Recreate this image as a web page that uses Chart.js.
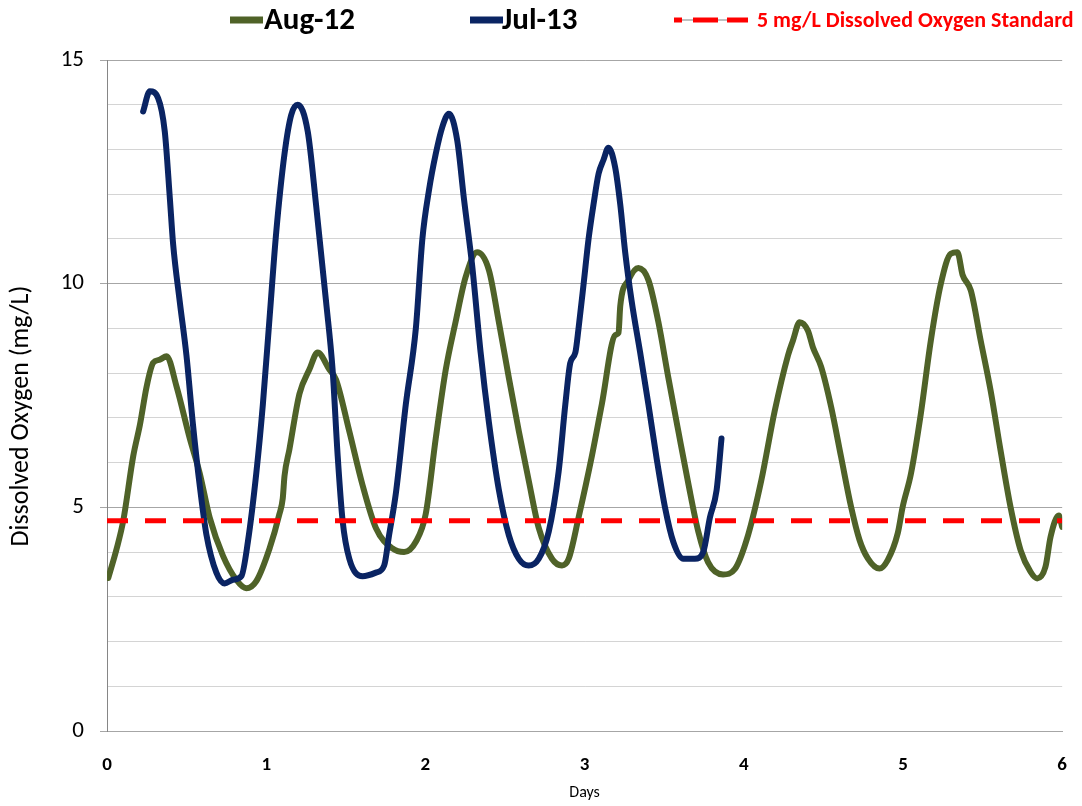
<!DOCTYPE html>
<html>
<head>
<meta charset="utf-8">
<script src="https://cdn.jsdelivr.net/npm/chart.js@4"></script>
<style>
  html, body { margin: 0; padding: 0; background: #fff; }
  #wrap { position: relative; width: 1082px; height: 806px; }
</style>
</head>
<body>
<div id="wrap"><canvas id="doChart" width="1082" height="806"></canvas></div>
<script>
// Aug-12 sonde record (days since deployment, mg/L)
const aug12Days = [0.008, 0.061, 0.102, 0.165, 0.207, 0.249, 0.290, 0.332, 0.374, 0.437, 0.520, 0.582, 0.645, 0.728, 0.812, 0.875, 0.938,
  1.021, 1.083, 1.104, 1.115, 1.146, 1.209, 1.271, 1.323, 1.397, 1.439, 1.522, 1.605, 1.689, 1.793, 1.866, 1.940,
  2.002, 2.065, 2.128, 2.190, 2.253, 2.325, 2.399, 2.461, 2.524, 2.587, 2.649, 2.712, 2.795, 2.858, 2.900, 2.962,
  3.046, 3.108, 3.192, 3.213, 3.224, 3.276, 3.338, 3.401, 3.463, 3.526, 3.589, 3.651, 3.714, 3.776, 3.870, 3.944,
  4.027, 4.110, 4.194, 4.278, 4.309, 4.351, 4.403, 4.434, 4.486, 4.549, 4.611, 4.674, 4.727, 4.779, 4.852, 4.904, 4.967,
  4.998, 5.050, 5.112, 5.175, 5.238, 5.300, 5.342, 5.374, 5.426, 5.488, 5.551, 5.613, 5.676, 5.739, 5.801, 5.843,
  5.895, 5.927, 5.979, 6.0];
const aug12DO = [3.42, 4.08, 4.7, 6.15, 6.85, 7.7, 8.23, 8.3, 8.38, 7.7, 6.54, 5.77, 4.77, 3.92, 3.38, 3.19, 3.35,
  4.08, 4.85, 5.2, 5.7, 6.3, 7.54, 8.08, 8.46, 8.08, 7.85, 6.7, 5.5, 4.54, 4.08, 4.0, 4.23,
  4.85, 6.54, 8.08, 9.15, 10.15, 10.7, 10.3, 9.15, 7.9, 6.7, 5.6, 4.54, 3.85, 3.7, 3.85, 4.77,
  6.15, 7.3, 8.85, 8.9, 9.5, 10.08, 10.35, 10.08, 9.15, 7.9, 6.7, 5.54, 4.46, 3.77, 3.5, 3.62,
  4.38, 5.6, 7.15, 8.4, 8.73, 9.14, 8.95, 8.58, 8.14, 7.24, 6.13, 5.01, 4.27, 3.86, 3.63, 3.82, 4.42,
  5.01, 5.75, 7.09, 8.73, 10.0, 10.67, 10.7, 10.2, 9.85, 8.73, 7.6, 6.27, 5.0, 4.04, 3.56, 3.41,
  3.67, 4.34, 4.82, 4.56];

// Jul-13 sonde record
const jul13Days = [0.227, 0.269, 0.321, 0.363, 0.395, 0.415, 0.457, 0.499, 0.540, 0.582, 0.624, 0.687, 0.739, 0.791, 0.844, 0.885, 0.938, 0.979,
  1.021, 1.063, 1.115, 1.157, 1.198, 1.261, 1.313, 1.376, 1.417, 1.449, 1.480, 1.522, 1.605, 1.689, 1.741, 1.772, 1.814, 1.877, 1.940, 1.981,
  2.023, 2.065, 2.106, 2.148, 2.200, 2.242, 2.294, 2.347, 2.399, 2.461, 2.524, 2.587, 2.649, 2.712, 2.775, 2.837, 2.879, 2.910, 2.942, 2.962, 2.994,
  3.025, 3.056, 3.088, 3.119, 3.150, 3.192, 3.224, 3.255, 3.296, 3.349, 3.401, 3.453, 3.505, 3.557, 3.620, 3.693, 3.745, 3.787, 3.829, 3.860];
const jul13DO = [13.85, 14.3, 14.15, 13.4, 11.9, 10.9, 9.6, 8.4, 6.85, 5.5, 4.4, 3.54, 3.3, 3.38, 3.46, 4.23, 5.77, 7.3,
  9.23, 11.15, 12.9, 13.77, 14.0, 13.4, 11.77, 9.6, 8.08, 6.15, 4.7, 3.85, 3.46, 3.54, 3.7, 4.38, 5.3, 7.3, 9.0, 11.0,
  12.1, 12.9, 13.5, 13.8, 13.2, 11.9, 10.4, 8.46, 6.9, 5.4, 4.38, 3.85, 3.7, 3.85, 4.46, 5.8, 7.3, 8.23, 8.46, 9.0, 10.0,
  11.0, 11.77, 12.46, 12.77, 13.04, 12.6, 11.77, 10.7, 9.6, 8.46, 7.3, 6.08, 5.0, 4.23, 3.85, 3.85, 4.0, 4.77, 5.38, 6.54];

// standard line as drawn
const standardDays = [0, 6];
const standardDO = [4.7, 4.7];

const yTicks = [0, 5, 10, 15];
const xTicks = [0, 1, 2, 3, 4, 5, 6];

const legendItems = ['Aug-12', 'Jul-13', '5 mg/L Dissolved Oxygen Standard'];

const FONT = 'Carlito, Calibri, Lato, sans-serif';
const GREEN = '#4f6228';
const NAVY = '#0a2463';
const RED = '#ff0000';

function toPoints(xs, ys) {
  return xs.map((x, i) => ({ x: x, y: ys[i] }));
}

// legend drawn at the top, sizes differ per entry so built-in legend is not used
const topLegend = {
  id: 'topLegend',
  afterDraw(chart) {
    const ctx = chart.ctx;
    const y = 20;
    ctx.save();
    ctx.lineCap = 'butt';
    ctx.textBaseline = 'middle';
    ctx.textAlign = 'left';
    // Aug-12
    ctx.strokeStyle = GREEN;
    ctx.lineWidth = 7;
    ctx.beginPath(); ctx.moveTo(230, y); ctx.lineTo(263, y); ctx.stroke();
    ctx.font = 'bold 31px ' + FONT;
    ctx.fillStyle = '#000';
    ctx.fillText(legendItems[0], 264, y + 1);
    // Jul-13
    ctx.strokeStyle = NAVY;
    ctx.beginPath(); ctx.moveTo(470, y); ctx.lineTo(503, y); ctx.stroke();
    ctx.fillText(legendItems[1], 502, y + 1);
    // standard
    ctx.strokeStyle = '#c0c0c0';
    ctx.lineWidth = 2;
    ctx.beginPath(); ctx.moveTo(674, y); ctx.lineTo(748, y); ctx.stroke();
    ctx.strokeStyle = RED;
    ctx.lineWidth = 5;
    [[674, 682], [693, 718], [727, 748]].forEach(([a, b]) => {
      ctx.beginPath(); ctx.moveTo(a, y); ctx.lineTo(b, y); ctx.stroke();
    });
    ctx.font = 'bold 22px ' + FONT;
    ctx.fillStyle = RED;
    ctx.fillText(legendItems[2], 757, y + 1);
    ctx.restore();
  }
};

new Chart(document.getElementById('doChart'), {
  type: 'line',
  data: {
    datasets: [
      {
        label: legendItems[2],
        data: toPoints(standardDays, standardDO),
        borderColor: RED,
        borderWidth: 5,
        borderDash: [21, 17],
        pointRadius: 0,
        order: 0,
      },
      {
        label: legendItems[1],
        data: toPoints(jul13Days, jul13DO),
        borderColor: NAVY,
        borderWidth: 6,
        cubicInterpolationMode: 'monotone',
        borderCapStyle: 'round',
        borderJoinStyle: 'round',
        pointRadius: 0,
        order: 1,
      },
      {
        label: legendItems[0],
        data: toPoints(aug12Days, aug12DO),
        borderColor: GREEN,
        borderWidth: 6,
        cubicInterpolationMode: 'monotone',
        borderCapStyle: 'round',
        borderJoinStyle: 'round',
        pointRadius: 0,
        order: 2,
      },
    ],
  },
  options: {
    responsive: false,
    animation: false,
    layout: {
      padding: { left: 0, right: 17, top: 60, bottom: 0 },
    },
    scales: {
      x: {
        type: 'linear',
        min: 0,
        max: 6,
        afterBuildTicks: (scale) => { scale.ticks = xTicks.map(v => ({ value: v })); },
        afterFit: (scale) => { scale.height = 75; },
        grid: { display: false },
        border: { display: true, color: '#a6a6a6', width: 1 },
        ticks: {
          padding: 15,
          color: '#000',
          font: { family: FONT, size: 19, weight: 'bold' },
        },
        title: {
          display: true,
          text: 'Days',
          color: '#000',
          font: { family: FONT, size: 16 },
          padding: { top: 0, bottom: 3 },
        },
      },
      y: {
        min: 0,
        max: 15,
        afterFit: (scale) => { scale.width = 107; },
        ticks: {
          stepSize: 1,
          padding: 16,
          color: '#000',
          font: { family: FONT, size: 23 },
          callback: (v) => (yTicks.includes(v) ? v : ''),
        },
        grid: {
          color: (c) => (c.tick && c.tick.value % 5 === 0 ? '#a6a6a6' : '#d4d4d4'),
          tickColor: (c) => (c.tick && c.tick.value % 5 === 0 ? '#a6a6a6' : 'rgba(0,0,0,0)'),
          tickLength: 7,
          lineWidth: 1,
        },
        border: { display: true, color: '#868686', width: 1 },
        title: {
          display: true,
          // trailing spaces nudge the text down to where the original sits
          text: 'Dissolved Oxygen (mg/L)\u00a0\u00a0\u00a0\u00a0\u00a0\u00a0\u00a0',
          color: '#000',
          font: { family: FONT, size: 26 },
          padding: { top: 6, bottom: 0 },
        },
      },
    },
    plugins: {
      legend: { display: false },
      tooltip: { enabled: false },
    },
  },
  plugins: [topLegend],
});
</script>
</body>
</html>
